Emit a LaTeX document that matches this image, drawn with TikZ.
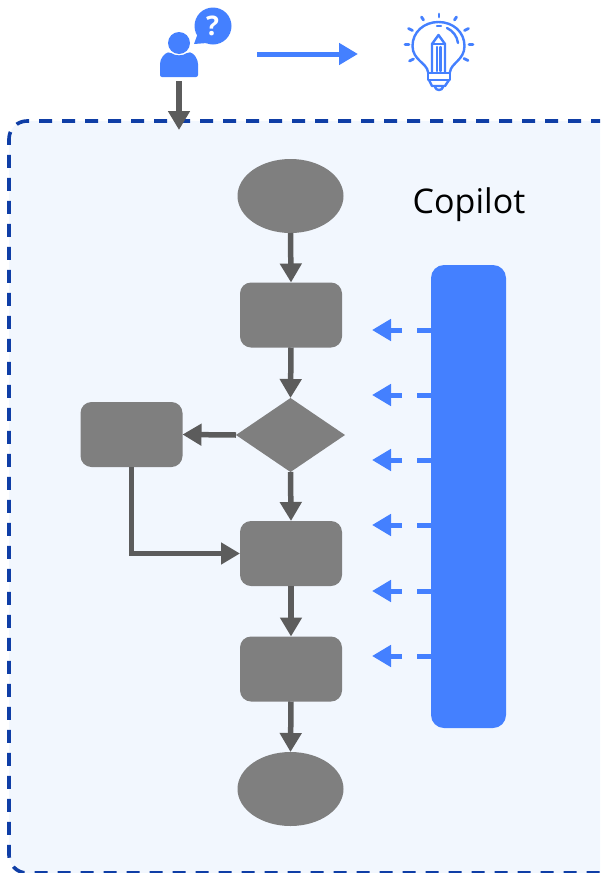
\documentclass[tikz,border=0pt]{standalone}
\usepackage{fontspec}
\setmainfont{Open Sans}
\usetikzlibrary{arrows.meta,shapes.geometric}
\definecolor{panelfill}{HTML}{F2F7FE}
\definecolor{paneledge}{HTML}{0F3EA6}
\definecolor{flowgrey}{HTML}{7F7F7F}
\definecolor{arrowgrey}{HTML}{5C5C5C}
\definecolor{accent}{HTML}{4480FF}
\tikzset{
  x=1pt,y=-1pt,
  flowbox/.style={rectangle,rounded corners=11pt,fill=flowgrey,draw=none,inner sep=0,outer sep=0,minimum width=102pt,minimum height=65pt},
  flowend/.style={ellipse,fill=flowgrey,draw=none,inner sep=0,outer sep=0,minimum width=106pt,minimum height=74pt},
  flowdiamond/.style={diamond,fill=flowgrey,draw=none,inner sep=0,outer sep=0,minimum width=109pt,minimum height=74pt},
  flowarrow/.style={draw=arrowgrey,line width=5.5pt,-{Triangle[length=19pt,width=21pt]}},
  bluearrow/.style={draw=accent,line width=5pt,-{Triangle[length=19pt,width=21pt]}},
  hintarrow/.style={bluearrow,dash pattern=on 14pt off 15pt on 40pt},
  iconline/.style={draw=accent,line width=2.4pt,line cap=round,line join=round},
}
\begin{document}
\begin{tikzpicture}
\useasboundingbox (0,0) rectangle (600,873);
\clip (0,0) rectangle (600,873);
% panel
\fill[panelfill,rounded corners=18pt] (620,121) -- (9,121) -- (9,873) -- (620,873) -- cycle;
\draw[paneledge,line width=3.6pt,dash pattern=on 13pt off 10pt,rounded corners=18pt]
  (604,121) -- (9,121) -- (9,873) -- (604,873);
% flow nodes
\node[flowend] (start) at (290.5,196) {};
\node[flowbox] (stepa) at (291,315) {};
\node[flowdiamond] (choice) at (290.5,435) {};
\node[flowbox] (side) at (131.5,434.5) {};
\node[flowbox] (stepb) at (291,553.5) {};
\node[flowbox] (stepc) at (291,669) {};
\node[flowend] (stop) at (290.5,789) {};
\draw[flowarrow] (start.south) -- (stepa.north);
\draw[flowarrow] (stepa.south) -- (choice.north);
\draw[flowarrow] (choice.west) -- (side.east);
\draw[flowarrow] (choice.south) -- (stepb.north);
\draw[flowarrow] (side.south) |- (stepb.west);
\draw[flowarrow] (stepb.south) -- (stepc.north);
\draw[flowarrow] (stepc.south) -- (stop.north);
% copilot bar
\node[rectangle,rounded corners=13pt,fill=accent,inner sep=0,outer sep=0,minimum width=75pt,minimum height=463pt] (bar) at (468.5,496.5) {};
\node[font=\fontsize{34}{36}\selectfont,inner sep=0] (title) at (469,205) {Copilot};
\foreach \yy/\nm in {330/a,395/b,460/c,525/d,591/e,656/f}{
  \coordinate (from\nm) at (431,\yy);
  \coordinate (to\nm) at (372,\yy);
  \draw[hintarrow] (from\nm) -- (to\nm);
}
% person icon
\fill[accent] (179,43) circle[radius=11pt];
\fill[accent,rounded corners=2pt] (160,77) -- (160,66) .. controls (160,58) and (165,53) .. (170,52) .. controls (175,56) and (183,56) .. (188,52) .. controls (194,53) and (198,59) .. (198,66) -- (198,77) -- cycle;
\fill[accent] (213,26) circle[radius=18.5pt];
\fill[accent] (198,33) -- (194,44) -- (207,43) -- cycle;
\node[text=white,font=\fontsize{27}{28}\selectfont\bfseries,inner sep=0] (query) at (212.5,25.5) {?};
\coordinate (userbase) at (179,81);
\coordinate (entry) at (179,130);
\draw[flowarrow] (userbase) -- (entry);
% idea arrow
\coordinate (ideafrom) at (257,54);
\coordinate (ideato) at (358,54);
\draw[bluearrow] (ideafrom) -- (ideato);
% bulb icon
\draw[iconline] (428,72) .. controls (427,63) and (412.5,60) .. (412.5,46)
  .. controls (412.5,32) and (424,22) .. (438.5,22)
  .. controls (453,22) and (464.5,32) .. (464.5,46)
  .. controls (464.5,60) and (451,63) .. (450,72);
\draw[iconline] (437,26) -- (441,26);
\draw[iconline] (447,28) .. controls (453,31) and (457,36) .. (458,43);
\draw[iconline] (432,72) -- (432,44) -- (438.5,35) -- (445,44) -- (445,72);
\draw[iconline] (432,44) -- (445,44);
\draw[iconline] (437,47) -- (437,71);
\draw[iconline] (440.5,47) -- (440.5,71);
\draw[iconline] (428,73) -- (450,73);
\draw[iconline] (428,73) -- (428,80) -- (450,80) -- (450,73);
\draw[iconline] (429,80) -- (432,86) -- (445,86) -- (449,80);
\draw[iconline] (435,87) .. controls (436,91) and (442,91) .. (443,87);
\foreach \a/\b/\c/\d in {439/14/439/17, 421.5/17/423.5/20, 456.5/17/454.5/20, 408.5/28.5/412.5/30.5, 468.5/28.5/464.5/30.5, 405/44.5/409/44.5, 473/44.5/469/44.5, 409.5/61/413.5/59, 468/60.5/464/58.5}{
  \draw[iconline,line width=2.8pt] (\a,\b) -- (\c,\d);
}
\end{tikzpicture}
\end{document}
